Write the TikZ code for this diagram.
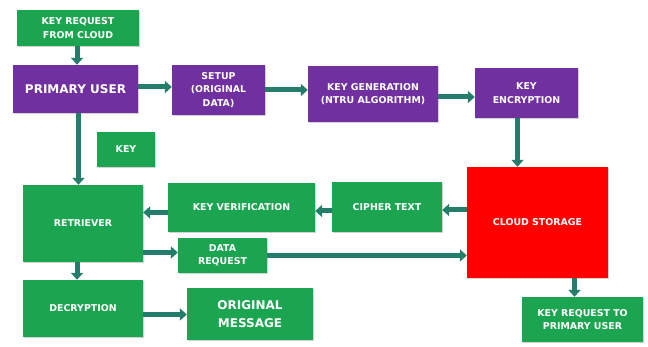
\documentclass[tikz,border=0pt]{standalone}
\usepackage{fontspec}
\setmainfont{DejaVu Sans}
\usetikzlibrary{arrows.meta,shadows}
\definecolor{gbox}{RGB}{28,165,80}
\definecolor{pbox}{RGB}{112,48,160}
\definecolor{rbox}{RGB}{255,0,0}
\definecolor{arr}{RGB}{36,124,106}
\tikzset{
  base/.style={draw=none, text=white, font=\bfseries\fontsize{9.4}{13.5}\selectfont, align=center, inner sep=1pt,
    drop shadow={shadow xshift=1.2pt, shadow yshift=-1.2pt, opacity=0.35}},
  gnode/.style={base, fill=gbox},
  pnode/.style={base, fill=pbox},
  rnode/.style={base, fill=rbox},
  big/.style={font=\bfseries\fontsize{12}{17.5}\selectfont},
  conn/.style={draw=arr, line width=5pt, -{Triangle[length=7pt,width=12pt]}, shorten >=0pt},
}
\begin{document}
\begin{tikzpicture}[x=1pt,y=-1pt]
\fill[white] (0,0) rectangle (648,347);
\useasboundingbox (0,0) rectangle (648,347);
\node[gnode, minimum width=122, minimum height=36] (kreq) at (78,28) {KEY REQUEST\\FROM CLOUD};
\node[pnode, big, minimum width=125, minimum height=48] (pu) at (75.5,89) {PRIMARY USER};
\node[pnode, minimum width=93, minimum height=50] (setup) at (218.5,90) {SETUP\\(ORIGINAL\\DATA)};
\node[pnode, minimum width=130, minimum height=56] (kgen) at (373,94) {KEY GENERATION\\(NTRU ALGORITHM)};
\node[pnode, minimum width=103, minimum height=50] (kenc) at (526.5,93) {KEY\\ENCRYPTION};
\node[gnode, minimum width=58, minimum height=35] (key) at (126,149.5) {KEY};
\node[gnode, minimum width=120, minimum height=77] (ret) at (83,223.5) {RETRIEVER};
\node[gnode, minimum width=147, minimum height=49] (kver) at (241.5,207.5) {KEY VERIFICATION};
\node[gnode, minimum width=89, minimum height=35] (dreq) at (222.5,255.5) {DATA\\REQUEST};
\node[gnode, minimum width=120, minimum height=57] (dec) at (83,308.5) {DECRYPTION};
\node[gnode, big, minimum width=126, minimum height=52] (omsg) at (250,314) {ORIGINAL\\MESSAGE};
\node[gnode, minimum width=110, minimum height=50] (cipher) at (387,207) {CIPHER TEXT};
\node[rnode, minimum width=141, minimum height=111] (cloud) at (537.5,222.5) {CLOUD STORAGE};
\node[gnode, minimum width=121, minimum height=45] (kreq2) at (582.5,319.5) {KEY REQUEST TO\\PRIMARY USER};

\coordinate (a1) at ([xshift=-1pt]kreq.south);
\draw[conn] (a1) -- (a1 |- pu.north);
\draw[conn] ([yshift=2pt]pu.east) -- ([yshift=2pt]pu.east -| setup.west);
\draw[conn] (setup.east) -- (setup.east -| kgen.west);
\draw[conn] ([yshift=-3pt]kgen.east) -- ([yshift=-3pt]kgen.east -| kenc.west);
\coordinate (a2) at ([xshift=-9pt]kenc.south);
\draw[conn] (a2) -- (a2 |- cloud.north);
\coordinate (a3) at ([xshift=3pt]pu.south);
\draw[conn] (a3) -- (a3 |- ret.north);
\coordinate (a4) at ([yshift=-3pt]cipher.east);
\draw[conn] (a4 -| cloud.west) -- (a4);
\draw[conn] ([yshift=-4pt]cipher.west) -- ([yshift=-4pt]cipher.west -| kver.east);
\draw[conn] ([yshift=-5pt]kver.west) -- ([yshift=-5pt]kver.west -| ret.east);
\draw[conn] ([yshift=3pt]ret.east |- dreq.west) -- ([yshift=3pt]dreq.west);
\draw[conn] (dreq.east) -- (dreq.east -| cloud.west);
\coordinate (a5) at ([xshift=-6pt]ret.south);
\draw[conn] (a5) -- (a5 |- dec.north);
\draw[conn] ([yshift=-6pt]dec.east) -- ([yshift=-6pt]dec.east -| omsg.west);
\coordinate (a6) at ([xshift=-8pt]kreq2.north);
\draw[conn] (a6 |- cloud.south) -- (a6);
\end{tikzpicture}
\end{document}
